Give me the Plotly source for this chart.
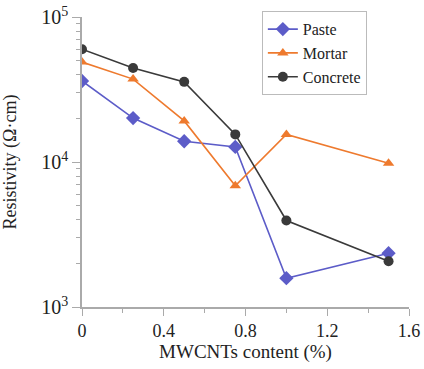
import plotly.graph_objects as go

content = [0, 0.25, 0.5, 0.75, 1.0, 1.5]
paste = [36200, 20100, 13900, 12700, 1580, 2350]
mortar = [48900, 37300, 19200, 6850, 15500, 9800]
concrete = [60000, 44500, 35700, 15500, 3950, 2070]

x_ticks = [0, 0.4, 0.8, 1.2, 1.6]
x_ticklabels = ["0", "0.4", "0.8", "1.2", "1.6"]
y_ticks = [1e3, 1e4, 1e5]
y_ticklabels = ["10<sup>3</sup>", "10<sup>4</sup>", "10<sup>5</sup>"]

font = "Liberation Serif, Times New Roman, serif"

fig = go.Figure()
fig.add_trace(go.Scatter(x=content, y=paste, name="Paste", mode="lines+markers",
                         line=dict(color="#5C5CC8", width=1.6),
                         marker=dict(symbol="diamond", size=11, color="#5C5CC8")))
fig.add_trace(go.Scatter(x=content, y=mortar, name="Mortar", mode="lines+markers",
                         line=dict(color="#EE7A2E", width=1.6),
                         marker=dict(symbol="triangle-up", size=10, color="#EE7A2E")))
fig.add_trace(go.Scatter(x=content, y=concrete, name="Concrete", mode="lines+markers",
                         line=dict(color="#3A3A3A", width=1.6),
                         marker=dict(symbol="circle", size=10, color="#3A3A3A")))

fig.update_layout(
    width=424, height=369,
    margin=dict(l=82, r=15, t=17, b=62, autoexpand=False),
    plot_bgcolor="white", paper_bgcolor="white",
    font=dict(family=font, size=16, color="#222"),
    showlegend=True,
    legend=dict(x=0.55, y=1.02, xanchor="left", yanchor="top",
                bgcolor="white", bordercolor="#BBBBBB", borderwidth=1,
                font=dict(size=16), tracegroupgap=0,
                itemsizing="trace"),
    xaxis=dict(range=[0, 1.6], tickvals=x_ticks, ticktext=x_ticklabels,
               showline=True, linecolor="#AAAAAA", linewidth=1.5,
               ticks="outside", ticklen=7, tickcolor="#AAAAAA",
               minor=dict(ticks="outside", ticklen=4, dtick=0.2, tickcolor="#AAAAAA"),
               showgrid=False, zeroline=False, automargin=False,
               ticklabeloverflow="allow",
               title=dict(text="MWCNTs content (%)", font=dict(size=19), standoff=4),
               tickfont=dict(size=18)),
    yaxis=dict(type="log", range=[3, 5], tickvals=y_ticks, ticktext=y_ticklabels,
               showline=True, linecolor="#AAAAAA", linewidth=1.5,
               ticks="outside", ticklen=8, tickcolor="#AAAAAA",
               minor=dict(ticks="outside", ticklen=4, dtick="D1", tickcolor="#AAAAAA"),
               showgrid=False, zeroline=False, automargin=False,
               ticklabeloverflow="allow",
               title=dict(text="Resistivity (Ω·cm)", font=dict(size=18), standoff=26),
               tickfont=dict(size=20)),
)

fig.write_html("out.html", config={"displayModeBar": False},
               post_script="document.body.style.margin='0';")
